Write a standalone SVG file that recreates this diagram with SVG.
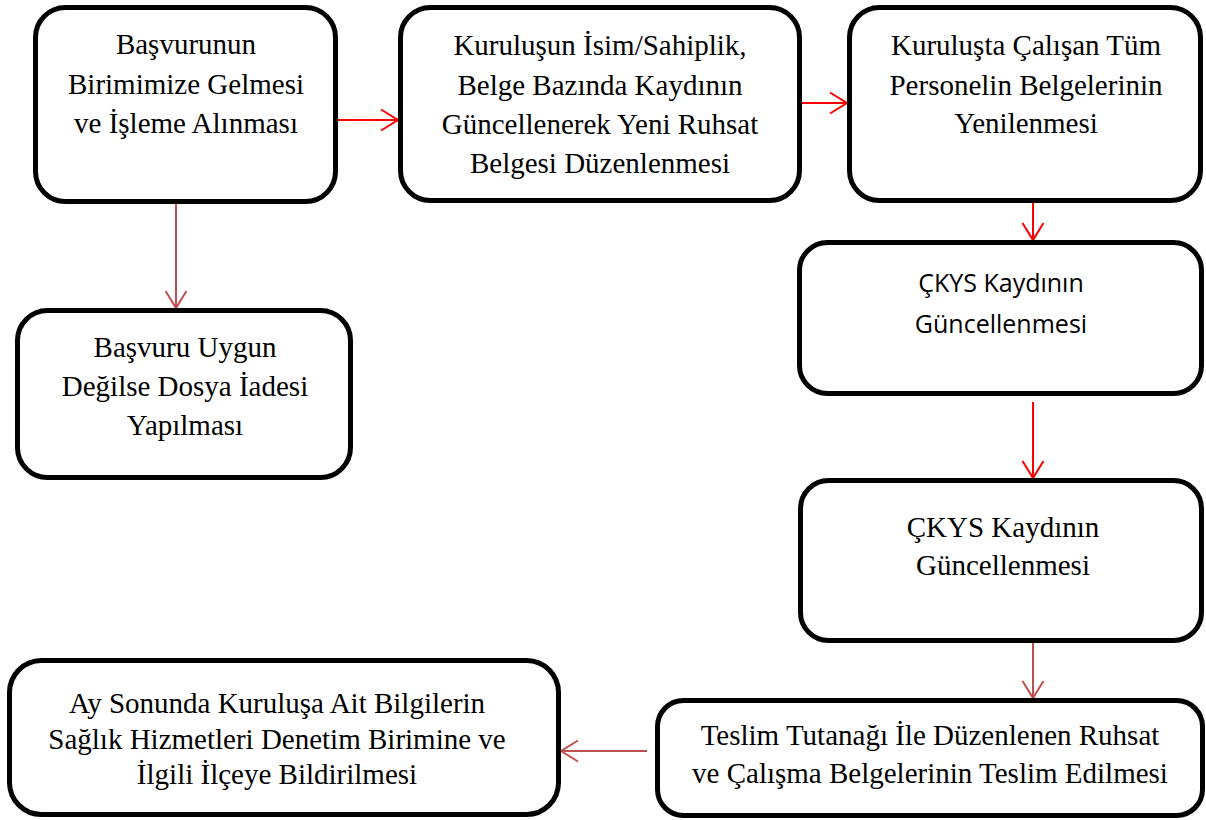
<svg xmlns="http://www.w3.org/2000/svg" width="1206" height="820" viewBox="0 0 1206 820">
  <style>
    .box { fill: #ffffff; stroke: #000000; stroke-width: 5; }
    .t { font-family: "Liberation Serif", "Times New Roman", serif; font-size: 29px; fill: #000000; text-anchor: middle; }
    .ts { font-family: "Open Sans", "Noto Sans", sans-serif; font-size: 25px; fill: #000000; text-anchor: middle; }
    .red { stroke: #ff0000; stroke-width: 2; fill: none; marker-end: url(#headRed); }
    .brown { stroke: #c0504d; stroke-width: 2; fill: none; marker-end: url(#headBrown); }
  </style>
  <defs>
    <marker id="headRed" markerUnits="userSpaceOnUse" markerWidth="24" markerHeight="26" refX="19" refY="12" orient="auto">
      <path d="M2,1.5 L19,12 L2,22.5" fill="none" stroke="#ff0000" stroke-width="2"/>
    </marker>
    <marker id="headBrown" markerUnits="userSpaceOnUse" markerWidth="24" markerHeight="26" refX="19" refY="12" orient="auto">
      <path d="M2,1.5 L19,12 L2,22.5" fill="none" stroke="#c0504d" stroke-width="2"/>
    </marker>
  </defs>

  <rect width="1206" height="820" fill="#ffffff"/>

  <g id="connectors">
    <line class="red" x1="338" y1="120" x2="398" y2="120"/>
    <line class="red" x1="802" y1="103" x2="847" y2="103"/>
    <line class="brown" x1="176" y1="204" x2="176" y2="308"/>
    <line class="red" x1="1033" y1="203" x2="1033" y2="240"/>
    <line class="red" x1="1033" y1="402" x2="1033" y2="478"/>
    <line class="brown" x1="1033" y1="643" x2="1033" y2="698"/>
    <line class="brown" x1="647" y1="751" x2="561" y2="751"/>
  </g>

  <g id="basvuru">
    <rect class="box" x="35.5" y="7.5" width="300" height="194" rx="30"/>
    <text class="t" x="186" y="54">Başvurunun</text>
    <text class="t" x="186" y="94">Birimimize Gelmesi</text>
    <text class="t" x="186" y="133">ve İşleme Alınması</text>
  </g>

  <g id="ruhsat-belgesi">
    <rect class="box" x="400.5" y="7.5" width="399" height="193" rx="30"/>
    <text class="t" x="600" y="55">Kuruluşun İsim/Sahiplik,</text>
    <text class="t" x="600" y="94.5">Belge Bazında Kaydının</text>
    <text class="t" x="600" y="133.5">Güncellenerek Yeni Ruhsat</text>
    <text class="t" x="600" y="172.5">Belgesi Düzenlenmesi</text>
  </g>

  <g id="personel-belgeleri">
    <rect class="box" x="849.5" y="7.5" width="351" height="193" rx="30"/>
    <text class="t" x="1026" y="55">Kuruluşta Çalışan Tüm</text>
    <text class="t" x="1026" y="95">Personelin Belgelerinin</text>
    <text class="t" x="1026" y="133">Yenilenmesi</text>
  </g>

  <g id="dosya-iadesi">
    <rect class="box" x="17.5" y="310.5" width="333" height="167" rx="30"/>
    <text class="t" x="185" y="357">Başvuru Uygun</text>
    <text class="t" x="185" y="396">Değilse Dosya İadesi</text>
    <text class="t" x="185" y="435">Yapılması</text>
  </g>

  <g id="ckys-1">
    <rect class="box" x="799.5" y="242.5" width="402" height="151" rx="28"/>
    <text class="ts" x="1001" y="292">ÇKYS Kaydının</text>
    <text class="ts" x="1001" y="333">Güncellenmesi</text>
  </g>

  <g id="ckys-2">
    <rect class="box" x="800.5" y="480.5" width="401" height="160" rx="28"/>
    <text class="t" x="1003" y="537">ÇKYS Kaydının</text>
    <text class="t" x="1003" y="575">Güncellenmesi</text>
  </g>

  <g id="teslim">
    <rect class="box" x="657.5" y="700.5" width="545" height="115" rx="26"/>
    <text class="t" x="930" y="745">Teslim Tutanağı İle Düzenlenen Ruhsat</text>
    <text class="t" x="930" y="783">ve Çalışma Belgelerinin Teslim Edilmesi</text>
  </g>

  <g id="bildirim">
    <rect class="box" x="9.5" y="660.5" width="549" height="154" rx="32"/>
    <text class="t" x="277" y="713">Ay Sonunda Kuruluşa Ait Bilgilerin</text>
    <text class="t" x="277" y="749">Sağlık Hizmetleri Denetim Birimine ve</text>
    <text class="t" x="277" y="784">İlgili İlçeye Bildirilmesi</text>
  </g>
</svg>
